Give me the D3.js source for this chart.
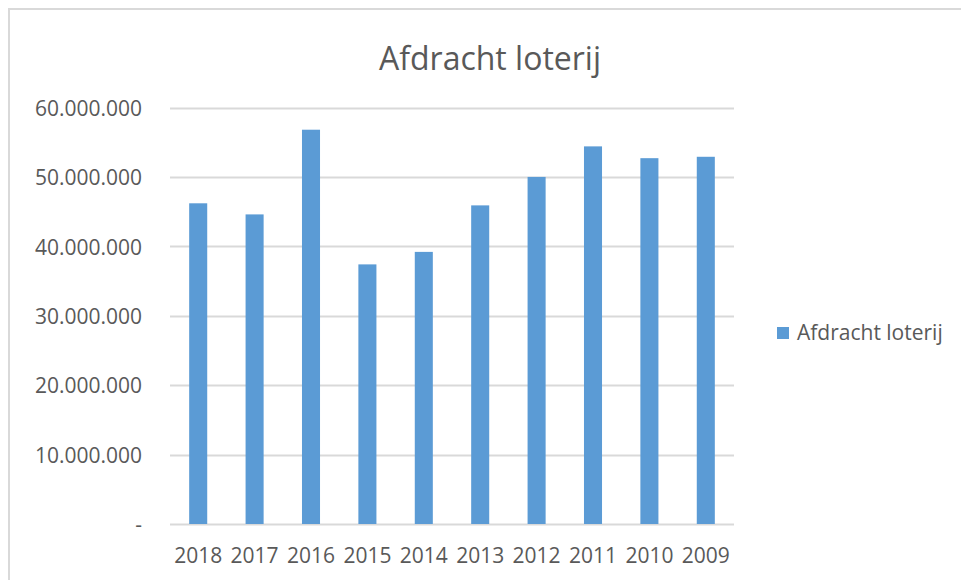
<!DOCTYPE html>
<html>
<head>
<meta charset="utf-8">
<script src="https://cdn.jsdelivr.net/npm/d3@7"></script>
<style>
  body { margin: 0; background: #fff; }
  text { font-family: "Open Sans", sans-serif; fill: #595959; }
</style>
</head>
<body>
<script>
// data
const years = ["2018", "2017", "2016", "2015", "2014", "2013", "2012", "2011", "2010", "2009"];
const values = [46200000, 44600000, 56800000, 37400000, 39200000, 45900000, 50000000, 54400000, 52700000, 52900000];
const yTicks = [0, 10000000, 20000000, 30000000, 40000000, 50000000, 60000000];
const title = "Afdracht loterij";

const width = 961, height = 580;

const svg = d3.select("body").append("svg")
    .attr("width", width)
    .attr("height", height);

// chart border
svg.append("rect")
    .attr("x", 9)
    .attr("y", 9)
    .attr("width", width)
    .attr("height", height)
    .attr("fill", "none")
    .attr("stroke", "#d9d9d9")
    .attr("stroke-width", 2);

const x = d3.scaleBand()
    .domain(years)
    .range([170, 734])
    .paddingInner(0.68)
    .paddingOuter(0.34);

const y = d3.scaleLinear()
    .domain([0, 60000000])
    .range([524, 107.5]);

const nl = d3.formatLocale({ decimal: ",", thousands: ".", grouping: [3], currency: ["€", ""] });
const fmt = d => d === 0 ? "-" : nl.format(",")(d);

// gridlines
svg.append("g")
    .selectAll("line")
    .data(yTicks)
    .enter()
    .append("line")
    .attr("x1", 170)
    .attr("x2", 734)
    .attr("y1", d => Math.round(y(d)) + 0.5)
    .attr("y2", d => Math.round(y(d)) + 0.5)
    .attr("stroke", "#d9d9d9")
    .attr("stroke-width", 2);

// y axis labels
const yAxis = svg.append("g")
    .attr("transform", "translate(162,1)")
    .call(d3.axisLeft(y).tickValues(yTicks).tickFormat(fmt).tickSize(0).tickPadding(20));
yAxis.select(".domain").remove();
yAxis.selectAll("text")
    .style("font-size", "21px")
    .style("fill", "#595959")
    .style("font-family", "Open Sans");

// bars
svg.append("g")
    .selectAll("rect")
    .data(values)
    .enter()
    .append("rect")
    .attr("x", (d, i) => x(years[i]))
    .attr("y", d => y(d))
    .attr("width", x.bandwidth())
    .attr("height", d => y(0) - y(d))
    .attr("fill", "#5b9bd5");

// x axis labels
const xAxis = svg.append("g")
    .attr("transform", "translate(0,524)")
    .call(d3.axisBottom(x).tickSize(0).tickPadding(24));
xAxis.select(".domain").remove();
xAxis.selectAll("text")
    .style("font-size", "21px")
    .style("fill", "#595959")
    .style("font-family", "Open Sans");

// title
svg.append("text")
    .attr("x", 490)
    .attr("y", 70)
    .attr("text-anchor", "middle")
    .style("font-size", "32px")
    .text(title);

// legend
svg.append("rect")
    .attr("x", 777)
    .attr("y", 327)
    .attr("width", 12)
    .attr("height", 12)
    .attr("fill", "#5b9bd5");
svg.append("text")
    .attr("x", 797)
    .attr("y", 340)
    .style("font-size", "21px")
    .text(title);
</script>
</body>
</html>
